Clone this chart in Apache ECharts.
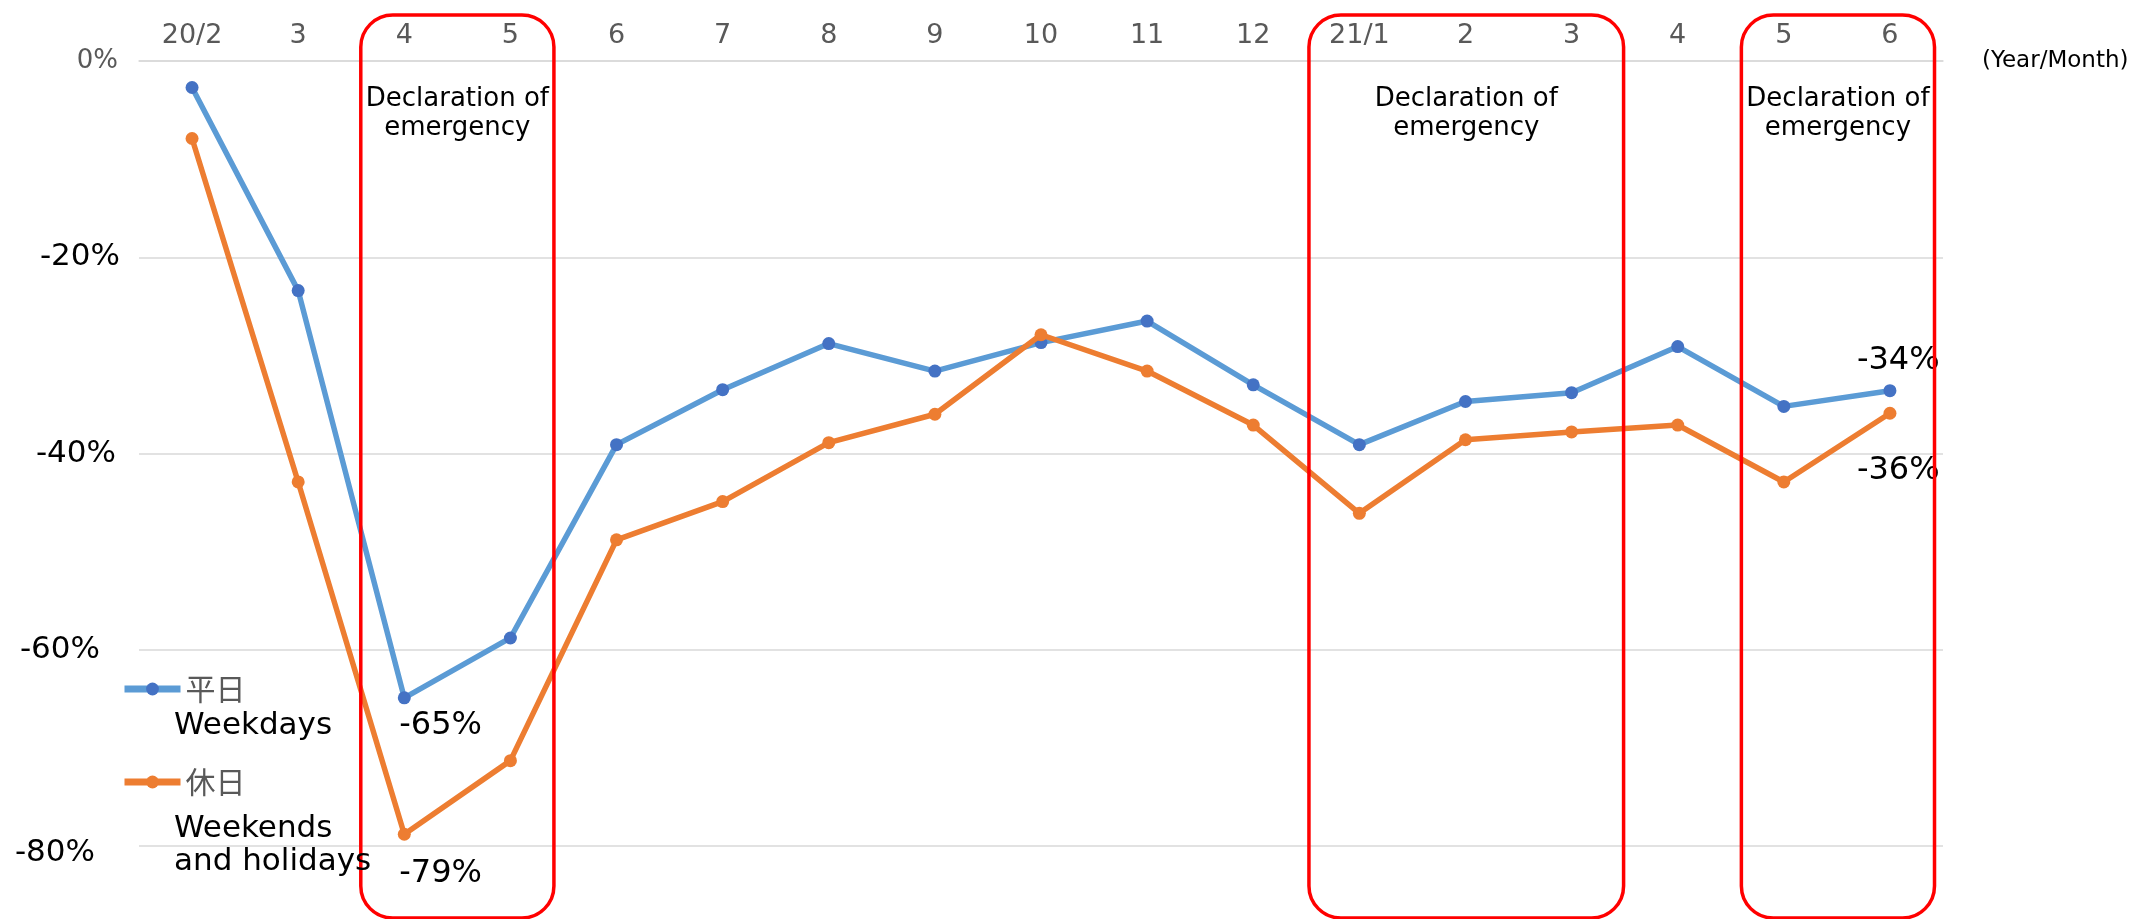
<!DOCTYPE html>
<html><head><meta charset="utf-8">
<script src="https://cdn.jsdelivr.net/npm/echarts@6/dist/echarts.min.js"></script>
<style>html,body{margin:0;padding:0;background:#fff}#c{width:2136px;height:919px}</style>
</head><body><div id="c"></div>
<script>
const categories = ['20/2','3','4','5','6','7','8','9','10','11','12','21/1','2','3','4','5','6'];
const weekdays = [-2.7,-23.4,-64.9,-58.8,-39.1,-33.5,-28.8,-31.6,-28.7,-26.5,-33.0,-39.1,-34.7,-33.8,-29.1,-35.2,-33.6];
const weekends = [-7.9,-42.9,-78.8,-71.3,-48.8,-44.9,-38.9,-36.0,-27.9,-31.6,-37.1,-46.1,-38.6,-37.8,-37.1,-42.9,-35.9];
const yTicks = [0,-20,-40,-60,-80];
const seriesNames = ['平日','休日'];
const seriesNamesEn = ['Weekdays','Weekends\nand holidays'];
const emergencyPeriods = [[2,3],[11,13],[15,16]];
const emergencyText = 'Declaration of\nemergency';
const xAxisName = '(Year/Month)';
const weekdayLabelIdx = [2,16];
const weekendLabelIdx = [2,16];

// styling (not data)
const FONT = '"DejaVu Sans", "Noto Sans CJK JP", sans-serif';
const CJK = '"Noto Sans CJK JP", sans-serif';
const labelOffsets = {
  w2: [-5, 28], w16: [-33, -30],
  h2: [-5, 39], h16: [-33, 57]
};
const boxPads = [[0.41,0.41],[0.475,0.49],[0.40,0.42]];
const yLabelPad = {'0':[0,2,0,0],'20':[0,0,0,0],'40':[0,4,0,0],'60':[0,20,0,0],'80':[14,25,0,0]};

function buildData(values, idxs, key) {
  return values.map((v, i) => idxs.includes(i) ? {
    value: v,
    label: {
      show: true, position: 'inside', align: 'left', verticalAlign: 'middle',
      offset: labelOffsets[key + i], color: '#000', fontSize: 32, fontFamily: FONT,
      formatter: p => Math.round(p.value) + '%'
    }
  } : v);
}

const rich = {};
yTicks.forEach(t => {
  const k = String(-t);
  rich['k' + k] = t === 0
    ? {color: '#595959', fontSize: 26, fontFamily: FONT, padding: yLabelPad[k]}
    : {color: '#000', fontSize: 31, fontFamily: FONT, padding: yLabelPad[k]};
});

const chart = echarts.init(document.getElementById('c'), null, {renderer: 'canvas'});
chart.setOption({
  animation: false,
  backgroundColor: '#fff',
  textStyle: {fontFamily: FONT},
  grid: {left: 139, right: 193, top: 61, bottom: 73, containLabel: false},
  xAxis: {
    type: 'category', data: categories, position: 'top', boundaryGap: true,
    axisLine: {show: true, lineStyle: {color: '#D9D9D9', width: 1.5}},
    axisTick: {show: false},
    axisLabel: {color: '#595959', fontSize: 27, margin: 12, interval: 0, fontFamily: FONT},
    name: xAxisName, nameLocation: 'end', nameGap: 39,
    nameTextStyle: {color: '#000', fontSize: 23, fontFamily: FONT, align: 'left', verticalAlign: 'middle', padding: [0, 0, 6, 0]}
  },
  yAxis: {
    type: 'value', min: -80, max: 0, interval: 20,
    axisLine: {show: false}, axisTick: {show: false},
    splitLine: {lineStyle: {color: '#D9D9D9', width: 1.5}},
    axisLabel: {
      margin: 19,
      formatter: v => '{k' + String(-v) + '|' + v + '%}',
      rich: rich
    }
  },
  legend: {
    orient: 'vertical', left: 121, top: 674, padding: 0, itemWidth: 56, itemHeight: 16, itemGap: 63,
    textStyle: {color: '#595959', fontSize: 30, lineHeight: 30, fontFamily: CJK},
    lineStyle: {width: 7},
    data: seriesNames
  },
  series: [
    {
      name: seriesNames[0], type: 'line', data: buildData(weekdays, weekdayLabelIdx, 'w'),
      symbol: 'circle', symbolSize: 13, z: 2,
      lineStyle: {color: '#5B9BD5', width: 5.5},
      itemStyle: {color: '#4472C4'}
    },
    {
      name: seriesNames[1], type: 'line', data: buildData(weekends, weekendLabelIdx, 'h'),
      symbol: 'circle', symbolSize: 13, z: 3,
      lineStyle: {color: '#ED7D31', width: 5.5},
      itemStyle: {color: '#ED7D31'}
    }
  ]
});

function drawAnnotations() {
  const px = i => chart.convertToPixel({xAxisIndex: 0}, i);
  const band = px(1) - px(0);
  const g = [];
  emergencyPeriods.forEach((p, k) => {
    const x0 = px(p[0]) - boxPads[k][0] * band;
    const x1 = px(p[1]) + boxPads[k][1] * band;
    g.push({
      type: 'rect', z: 100,
      shape: {x: x0, y: 15, width: x1 - x0, height: 903, r: 32},
      style: {fill: null, stroke: '#FF0000', lineWidth: 3.5}
    });
    g.push({
      type: 'text', z: 101,
      style: {
        text: emergencyText, x: (x0 + x1) / 2, y: 113.5, align: 'center', verticalAlign: 'middle',
        font: '26px ' + FONT, lineHeight: 29, fill: '#000'
      }
    });
  });
  g.push({type: 'text', z: 101, style: {text: seriesNamesEn[0], x: 174, y: 726, verticalAlign: 'middle', font: '31px ' + FONT, lineHeight: 33, fill: '#000'}});
  g.push({type: 'text', z: 101, style: {text: seriesNamesEn[1], x: 174, y: 845.5, verticalAlign: 'middle', font: '31px ' + FONT, lineHeight: 33, fill: '#000'}});
  chart.setOption({graphic: g});
}
drawAnnotations();
</script>
</body></html>
